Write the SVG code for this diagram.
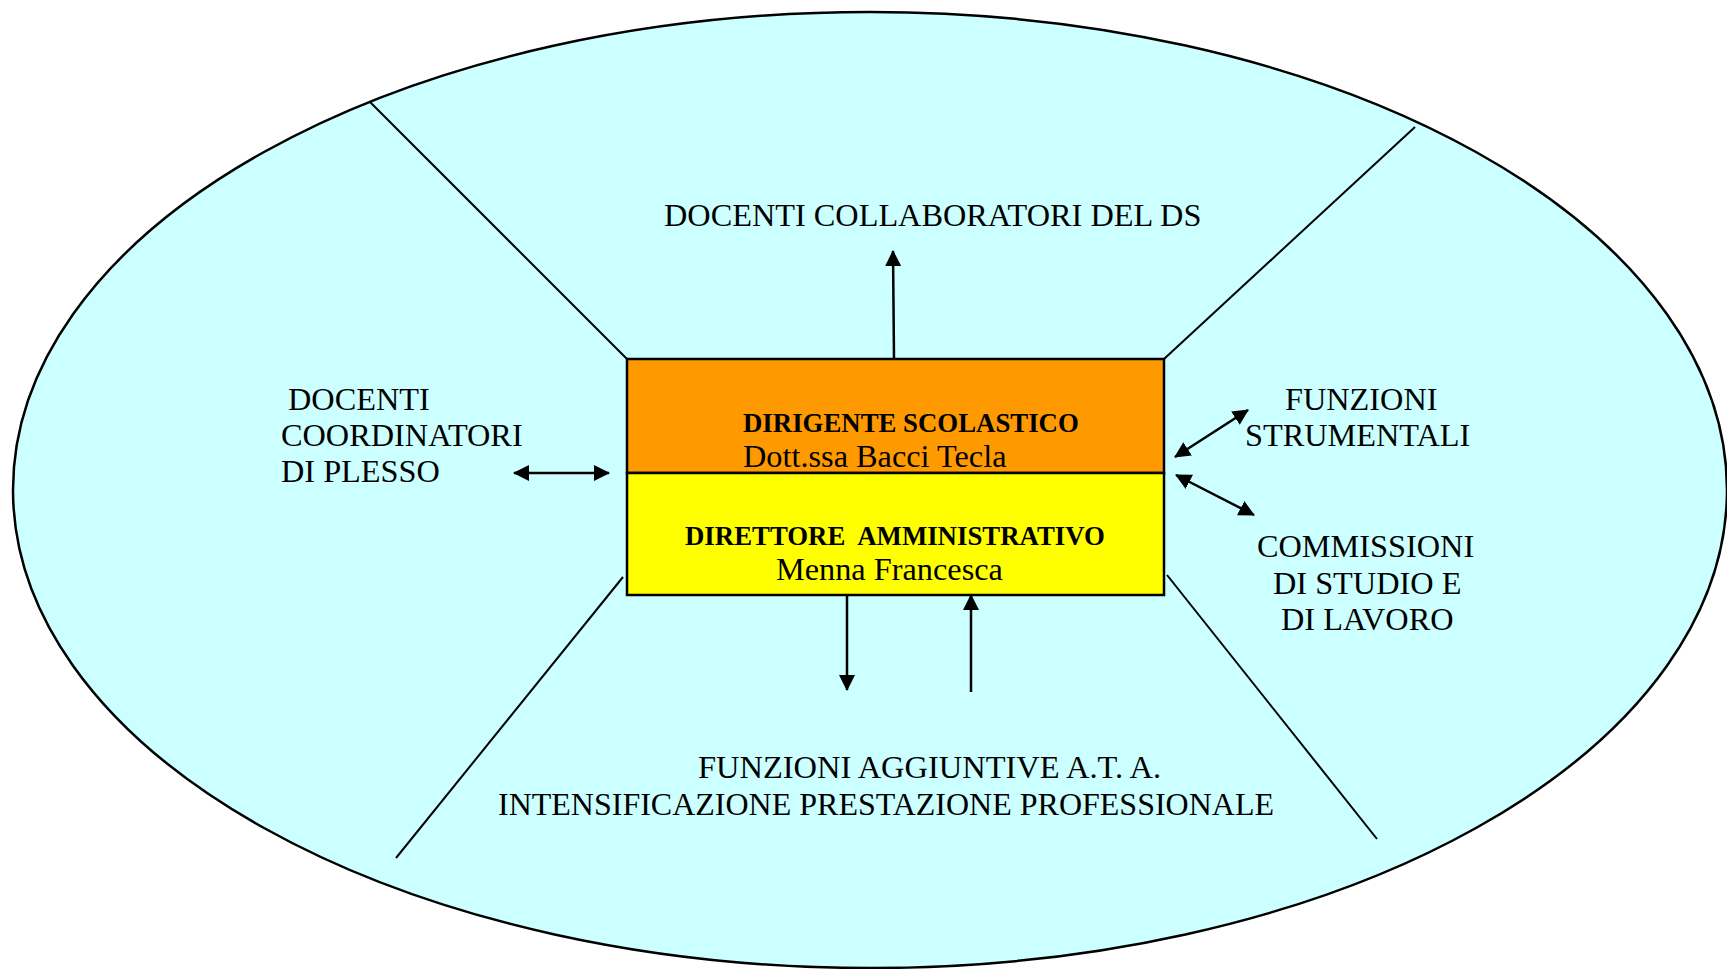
<svg xmlns="http://www.w3.org/2000/svg" width="1727" height="969" viewBox="0 0 1727 969">
  <style>
    .lbl { font-family: "Liberation Serif", "Times New Roman", serif; font-size: 32.3px; fill: #000; }
    .bold { font-family: "Liberation Serif", "Times New Roman", serif; font-size: 26.8px; font-weight: bold; fill: #000; white-space: pre; }
    .name { font-family: "Liberation Serif", "Times New Roman", serif; font-size: 32.3px; fill: #000; }
    .sep { stroke: #000; stroke-width: 2; fill: none; }
    .arr { stroke: #000; stroke-width: 2.5; fill: none; }
  </style>
  <defs>
    <marker id="head" viewBox="0 0 16 16" refX="15" refY="8" markerWidth="16" markerHeight="16" markerUnits="userSpaceOnUse" orient="auto-start-reverse">
      <path d="M0,0 L16,8 L0,16 Z" fill="#000"/>
    </marker>
  </defs>

  <rect width="1727" height="969" fill="#fff"/>

  <!-- outer field -->
  <g id="field">
    <ellipse cx="870" cy="490" rx="857" ry="478" fill="#CCFFFF" stroke="#000" stroke-width="2.5"/>
  </g>

  <!-- sector dividers and arrows -->
  <g id="connectors">
    <line class="sep" x1="370" y1="102" x2="627" y2="359"/>
    <line class="sep" x1="1415" y1="127" x2="1164" y2="359"/>
    <line class="sep" x1="623" y1="577" x2="396" y2="858"/>
    <line class="sep" x1="1167" y1="575" x2="1377" y2="839"/>

    <line class="arr" x1="894" y1="359" x2="893" y2="251" marker-end="url(#head)"/>
    <line class="arr" x1="514" y1="473" x2="609" y2="473" marker-start="url(#head)" marker-end="url(#head)"/>
    <line class="arr" x1="1175" y1="457" x2="1248" y2="410" marker-start="url(#head)" marker-end="url(#head)"/>
    <line class="arr" x1="1176" y1="475" x2="1254" y2="515" marker-start="url(#head)" marker-end="url(#head)"/>
    <line class="arr" x1="847" y1="595" x2="847" y2="690" marker-end="url(#head)"/>
    <line class="arr" x1="971" y1="692" x2="971" y2="595" marker-end="url(#head)"/>
  </g>

  <!-- central box -->
  <g id="dirigente">
    <rect x="627" y="359" width="537" height="114" fill="#FF9900" stroke="#000" stroke-width="2.5"/>
    <text class="bold" x="743" y="432">DIRIGENTE SCOLASTICO</text>
    <text class="name" x="743" y="467">Dott.ssa Bacci Tecla</text>
  </g>
  <g id="direttore">
    <rect x="627" y="473" width="537" height="122" fill="#FFFF00" stroke="#000" stroke-width="2.5"/>
    <text class="bold" x="685" y="545">DIRETTORE  AMMINISTRATIVO</text>
    <text class="name" x="776" y="580">Menna Francesca</text>
  </g>

  <g id="collaboratori">
    <text class="lbl" x="664" y="226">DOCENTI COLLABORATORI DEL DS</text>
  </g>
  <g id="coordinatori">
    <text class="lbl" x="288" y="410">DOCENTI</text>
    <text class="lbl" x="281" y="446">COORDINATORI</text>
    <text class="lbl" x="281" y="482">DI PLESSO</text>
  </g>
  <g id="funzioni-strumentali">
    <text class="lbl" x="1285" y="410">FUNZIONI</text>
    <text class="lbl" x="1245" y="446">STRUMENTALI</text>
  </g>
  <g id="commissioni">
    <text class="lbl" x="1257" y="557">COMMISSIONI</text>
    <text class="lbl" x="1273" y="594">DI STUDIO E</text>
    <text class="lbl" x="1281" y="630">DI LAVORO</text>
  </g>
  <g id="funzioni-ata">
    <text class="lbl" x="698" y="778" textLength="463" lengthAdjust="spacingAndGlyphs">FUNZIONI AGGIUNTIVE A.T. A.</text>
    <text class="lbl" x="498" y="815" textLength="776" lengthAdjust="spacingAndGlyphs">INTENSIFICAZIONE PRESTAZIONE PROFESSIONALE</text>
  </g>
</svg>
